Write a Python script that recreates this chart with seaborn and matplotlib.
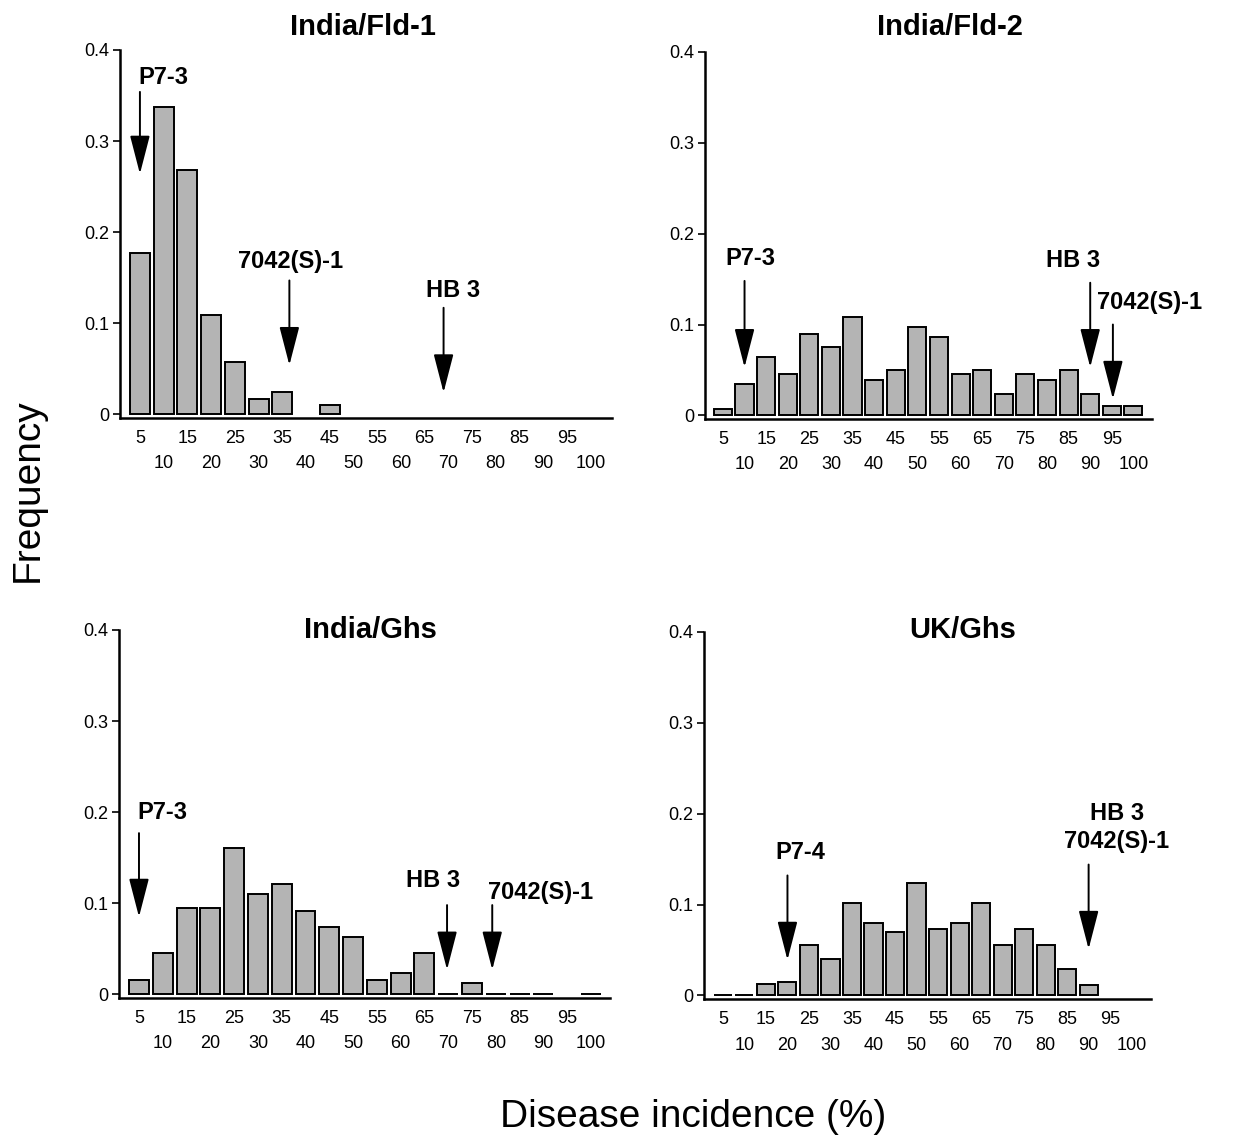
import numpy as np
import pandas as pd
import matplotlib
matplotlib.use("Agg")
import matplotlib.pyplot as plt
import seaborn as sns

sns.set_style("white")
plt.rcParams['font.family'] = ['Liberation Sans', 'DejaVu Sans']
for key in ["text.color", "axes.labelcolor", "xtick.color", "ytick.color"]:
    plt.rcParams[key] = "black"

# ---- data ----
bins = [str(b) for b in range(5, 105, 5)]
nan = np.nan

india_fld1 = [0.177, 0.337, 0.268, 0.109, 0.058, 0.017, 0.024, nan, 0.010, nan,
              nan, nan, nan, nan, nan, nan, nan, nan, nan, nan]
india_fld2 = [0.007, 0.035, 0.064, 0.045, 0.090, 0.075, 0.108, 0.039, 0.050, 0.097,
              0.086, 0.045, 0.050, 0.024, 0.045, 0.039, 0.050, 0.024, 0.010, 0.010]
india_ghs = [0.016, 0.045, 0.095, 0.095, 0.161, 0.110, 0.121, 0.092, 0.074, 0.063,
             0.016, 0.023, 0.045, 0.0, 0.012, 0.0, 0.0, 0.0, nan, 0.0]
uk_ghs = [0.0, 0.0, 0.012, 0.015, 0.055, 0.040, 0.102, 0.080, 0.070, 0.124,
          0.073, 0.080, 0.102, 0.055, 0.073, 0.055, 0.029, 0.011, nan, nan]

titles = ["India/Fld-1", "India/Fld-2", "India/Ghs", "UK/Ghs"]
series = [india_fld1, india_fld2, india_ghs, uk_ghs]
yticks = [0, 0.1, 0.2, 0.3, 0.4]
ytick_labels = ["0", "0.1", "0.2", "0.3", "0.4"]

# cultivar markers: (label, text x, text y, arrow x, arrow top, arrow tip, ha)
markers = [
    [("P7-3", 0.97, 0.370, 0.0, 0.354, 0.264, "center"),
     ("7042(S)-1", 6.33, 0.168, 6.3, 0.147, 0.054, "center"),
     ("HB 3", 13.2, 0.136, 12.8, 0.117, 0.024, "center")],
    [("P7-3", 1.25, 0.173, 1.0, 0.148, 0.053, "center"),
     ("HB 3", 16.2, 0.170, 17.0, 0.146, 0.053, "center"),
     ("7042(S)-1", 17.3, 0.124, 18.05, 0.100, 0.018, "left")],
    [("P7-3", 1.0, 0.200, 0.0, 0.177, 0.085, "center"),
     ("HB 3", 12.36, 0.125, 12.95, 0.098, 0.027, "center"),
     ("7042(S)-1", 16.9, 0.112, 14.85, 0.098, 0.027, "center")],
    [("P7-4", 3.58, 0.157, 3.0, 0.132, 0.039, "center"),
     ("HB 3\n7042(S)-1", 18.3, 0.185, 17.0, 0.144, 0.051, "center")],
]

W, H = 1253, 1141
fig = plt.figure(figsize=(W / 100, H / 100), dpi=100)

# axes rectangles in pixels: left, right, top(0.4), bottom(spine)
rects = [(120, 612, 50, 418), (705, 1152, 52, 419),
         (119, 610, 630, 998), (704, 1151, 632, 999)]
xlims = [(-0.84, 19.9), (-0.83, 19.86), (-0.84, 19.8), (-0.88, 19.9)]
title_pos = [(363, 27), (950, 27), (370, 630), (963, 630)]

for k in range(4):
    l, r, t, b = rects[k]
    ax = fig.add_axes([l / W, 1 - b / H, (r - l) / W, (b - t) / H])
    df = pd.DataFrame({"bin": bins, "freq": series[k]}).dropna()
    sns.barplot(data=df, x="bin", y="freq", order=bins, color="#b4b4b4",
                saturation=1, edgecolor="black", linewidth=1.4, width=0.84,
                errorbar=None, ax=ax)
    ax.set_xlim(*xlims[k])
    ax.set_ylim(-0.004, 0.4)
    ax.set_xlabel("")
    ax.set_ylabel("")
    ax.set_yticks(yticks)
    ax.set_yticklabels(ytick_labels, fontsize=13)
    # two staggered rows of x labels: odd on major ticks, even on minor ticks
    ax.set_xticks(range(0, len(bins), 2))
    ax.set_xticklabels(bins[0::2], fontsize=13)
    ax.set_xticks(range(1, len(bins), 2), minor=True)
    ax.set_xticklabels(bins[1::2], minor=True, fontsize=13)
    ax.tick_params(axis="x", which="major", length=0, pad=8.5)
    ax.tick_params(axis="x", which="minor", length=0, pad=27)
    ax.tick_params(axis="y", length=5, width=1.2, pad=3, direction="out", left=True)
    for s in ["top", "right"]:
        ax.spines[s].set_visible(False)
    for s in ["left", "bottom"]:
        ax.spines[s].set_linewidth(1.8)
        ax.spines[s].set_color("black")
    for (txt, tx, ty, axx, top, tip, ha) in markers[k]:
        ax.text(tx, ty, txt, fontsize=17, fontweight="bold", ha=ha, va="center",
                linespacing=1.25, clip_on=False)
        ax.annotate("", xy=(axx, tip), xytext=(axx, top),
                    arrowprops=dict(arrowstyle="-|>,head_length=2.4,head_width=0.62",
                                    mutation_scale=10, color="black", lw=1.4,
                                    shrinkA=0, shrinkB=0))
    tx, ty = title_pos[k]
    fig.text(tx / W, 1 - ty / H, titles[k], fontsize=21, fontweight="bold",
             ha="center", va="center")

fig.text(28 / W, 1 - 490 / H, "Frequency", fontsize=28, rotation=90,
         ha="center", va="center")
fig.text(693 / W, 1 - 1117 / H, "Disease incidence (%)", fontsize=28,
         ha="center", va="center")

fig.savefig("out.png", dpi=100)
